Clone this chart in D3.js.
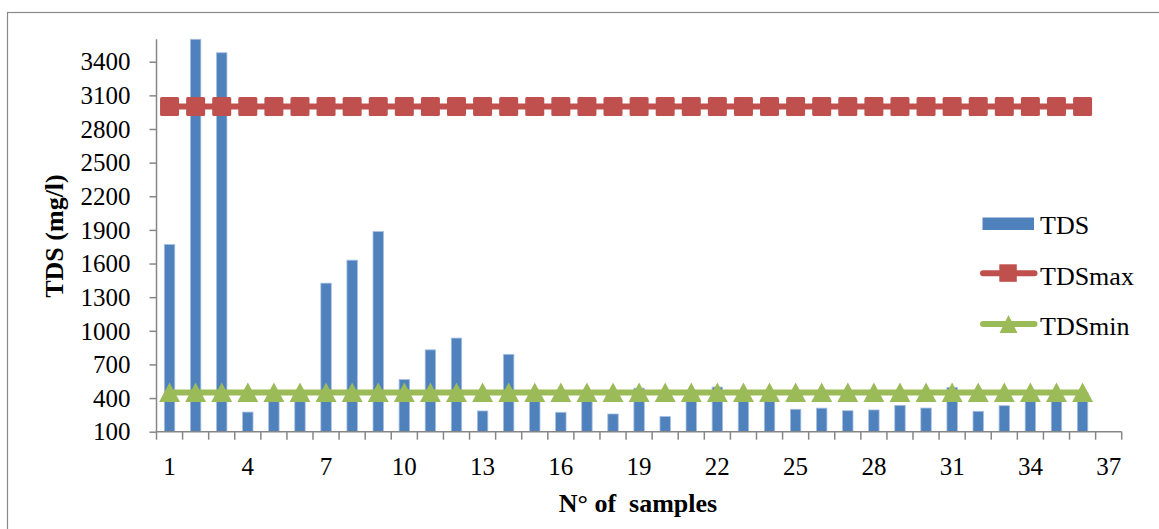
<!DOCTYPE html>
<html>
<head>
<meta charset="utf-8">
<script src="https://cdn.jsdelivr.net/npm/d3@7"></script>
<style>
  html, body { margin: 0; padding: 0; background: #fff; }
  svg { display: block; }
</style>
</head>
<body>
<svg id="chart" width="1159" height="529"></svg>
<script>
// ---- data ----
const categories = d3.range(1, 38);           // 37 category slots (1..37), bars for 1..36
const samples = d3.range(1, 37);
const tdsValues = [1770, 3600, 3480, 275, 420, 410, 1425, 1630, 1885, 565,
                   830, 935, 285, 790, 420, 273, 430, 258, 488, 235,
                   440, 498, 430, 440, 300, 310, 287, 294, 335, 311,
                   495, 282, 332, 450, 440, 450];
const tdsMax = 3000;
const tdsMin = 450;
const yTicks = [100, 400, 700, 1000, 1300, 1600, 1900, 2200, 2500, 2800, 3100, 3400];
const xTickLabels = [1, 4, 7, 10, 13, 16, 19, 22, 25, 28, 31, 34, 37];
const seriesNames = ["TDS", "TDSmax", "TDSmin"];
const colors = { bar: "#4F81BD", max: "#C0504D", min: "#9BBB59", axis: "#868686" };
const FONT = "Liberation Serif";

const svg = d3.select("#chart").attr("font-family", FONT);

// outer frame (only top/left visible)
svg.append("rect").attr("x", 7.5).attr("y", 12.5).attr("width", 1300).attr("height", 600)
  .attr("fill", "none").attr("stroke", "#8a8a8a").attr("stroke-width", 1.2);

const plot = { left: 156.5, right: 1121.7, top: 39.3, bottom: 431.7 };

const x = d3.scaleBand().domain(categories).range([plot.left, plot.right]).padding(0);
const xBar = d3.scaleBand().domain(categories).range([plot.left, plot.right])
  .paddingInner(0.6).paddingOuter(0.3);
const y = d3.scaleLinear().domain([100, 3600]).range([plot.bottom, plot.top]).clamp(true);
const xc = c => x(c) + x.bandwidth() / 2;

// bars
svg.append("g").selectAll("rect").data(samples).join("rect")
  .attr("x", d => xBar(d))
  .attr("width", xBar.bandwidth())
  .attr("y", (d, i) => y(tdsValues[i]))
  .attr("height", (d, i) => plot.bottom - y(tdsValues[i]))
  .attr("fill", colors.bar)
  .attr("stroke", "#a7bfdf").attr("stroke-width", 0.8);

// y axis
const yAxis = d3.axisLeft(y).tickValues(yTicks).tickSize(7).tickPadding(19)
  .tickFormat(d3.format("d"));
const gy = svg.append("g").attr("transform", `translate(${plot.left},0)`).call(yAxis)
  .attr("font-family", FONT).attr("font-size", 25);
gy.select(".domain").attr("stroke", colors.axis).attr("stroke-width", 1.5)
  .attr("d", `M0,${plot.top}V${plot.bottom}`);
gy.selectAll(".tick line").attr("stroke", colors.axis).attr("stroke-width", 1.5);
gy.selectAll(".tick text").attr("dy", "0.33em").attr("fill", "#000")
  .style("font-family", FONT).style("font-size", "25px");

// x axis
const xAxis = d3.axisBottom(x).tickValues(xTickLabels).tickSize(0).tickPadding(26);
const gx = svg.append("g").attr("transform", `translate(0,${plot.bottom})`).call(xAxis)
  .attr("font-family", FONT).attr("font-size", 25);
gx.select(".domain").attr("stroke", colors.axis).attr("stroke-width", 1.5)
  .attr("d", `M${plot.left},0H${plot.right}`);
gx.selectAll(".tick text").attr("fill", "#000")
  .style("font-family", FONT).style("font-size", "25px");
// boundary tick marks
const bounds = categories.map(c => x(c)).concat([plot.right]);
gx.append("g").selectAll("line").data(bounds).join("line")
  .attr("x1", d => d).attr("x2", d => d).attr("y1", 0).attr("y2", 8)
  .attr("stroke", colors.axis).attr("stroke-width", 1.5);

// TDSmax line + square markers
const line = d3.line().x(d => xc(d.c)).y(d => y(d.v));
svg.append("path").datum(samples.map(c => ({ c, v: tdsMax })))
  .attr("d", line).attr("fill", "none").attr("stroke", colors.max).attr("stroke-width", 6);
svg.append("g").selectAll("rect").data(samples).join("rect")
  .attr("x", d => xc(d) - 9.5).attr("y", y(tdsMax) - 9.5)
  .attr("width", 19).attr("height", 19).attr("rx", 1.5)
  .attr("fill", colors.max);

// TDSmin line + triangle markers
svg.append("path").datum(samples.map(c => ({ c, v: tdsMin })))
  .attr("d", line).attr("fill", "none").attr("stroke", colors.min).attr("stroke-width", 6);
const tri = (cx, cy) => `M${cx},${cy - 10}L${cx + 10.5},${cy + 9.5}L${cx - 10.5},${cy + 9.5}Z`;
svg.append("g").selectAll("path").data(samples).join("path")
  .attr("d", d => tri(xc(d), y(tdsMin)))
  .attr("fill", colors.min);

// axis titles
svg.append("text").attr("transform", "translate(63,236) rotate(-90)")
  .attr("text-anchor", "middle").style("font-family", FONT).style("font-size", "26px")
  .attr("font-weight", "bold").text("TDS (mg/l)");
svg.append("text").attr("x", 638).attr("y", 512)
  .attr("text-anchor", "middle").style("font-family", FONT).style("font-size", "26px")
  .attr("font-weight", "bold").style("white-space", "pre")
  .text("N° of  samples");

// legend
const lg = svg.append("g");
lg.append("rect").attr("x", 982.5).attr("y", 217.5).attr("width", 51.5).attr("height", 12.5)
  .attr("fill", colors.bar);
lg.append("text").attr("x", 1040).attr("y", 233.5).style("font-family", FONT)
  .style("font-size", "26px").text(seriesNames[0]);

lg.append("line").attr("x1", 983).attr("x2", 1034.5).attr("y1", 273.3).attr("y2", 273.3)
  .attr("stroke", colors.max).attr("stroke-width", 6).attr("stroke-linecap", "round");
lg.append("rect").attr("x", 999.3).attr("y", 264.3).attr("width", 17.5).attr("height", 17.5)
  .attr("fill", colors.max);
lg.append("text").attr("x", 1040).attr("y", 284.5).style("font-family", FONT)
  .style("font-size", "26px").text(seriesNames[1]);

lg.append("line").attr("x1", 983).attr("x2", 1034.5).attr("y1", 324).attr("y2", 324)
  .attr("stroke", colors.min).attr("stroke-width", 6).attr("stroke-linecap", "round");
lg.append("path").attr("d", `M1008.5,315L1017.5,333L999.5,333Z`).attr("fill", colors.min);
lg.append("text").attr("x", 1040).attr("y", 334.5).style("font-family", FONT)
  .style("font-size", "26px").text(seriesNames[2]);
</script>
</body>
</html>
